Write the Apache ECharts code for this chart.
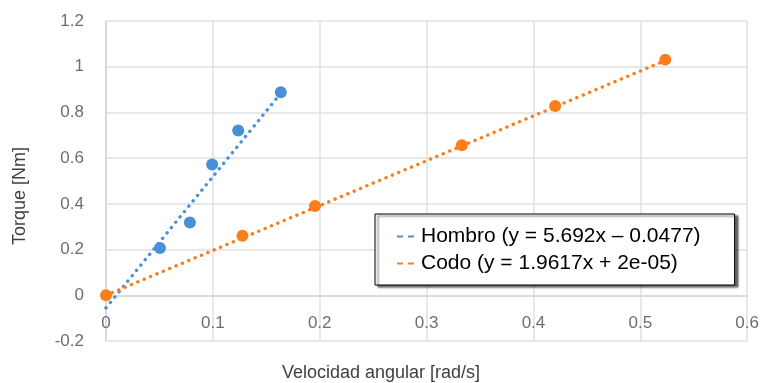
<!DOCTYPE html>
<html>
<head>
<meta charset="utf-8">
<script src="https://cdn.jsdelivr.net/npm/echarts@6/dist/echarts.min.js"></script>
<style>
html,body{margin:0;padding:0;background:#fff;}
#chart{width:762px;height:383px;}
</style>
</head>
<body>
<div id="chart"></div>
<script>
// Data
const hombroX = [0.0505, 0.0785, 0.0993, 0.1237, 0.1636];
const hombroY = [0.207, 0.318, 0.572, 0.721, 0.888];
const codoX = [0, 0.1277, 0.1956, 0.333, 0.4203, 0.5234];
const codoY = [0, 0.26, 0.391, 0.656, 0.828, 1.031];
// Trend line endpoints (as drawn)
const hombroTrendX = [0, 0.1636];
const hombroTrendY = [-0.055, 0.884];
const codoTrendX = [0, 0.5234];
const codoTrendY = [0, 1.027];
const seriesNames = ['Hombro', 'Codo'];
const legendNames = ['Hombro (y = 5.692x \u2013 0.0477)', 'Codo (y = 1.9617x + 2e-05)'];
const xTitle = 'Velocidad angular [rad/s]';
const yTitle = 'Torque [Nm]';

const blue = '#4a90d9';
const orange = '#fb7d1c';
const zip = (xs, ys) => xs.map((x, i) => [x, ys[i]]);

const chart = echarts.init(document.getElementById('chart'), null, {renderer: 'canvas'});
const font = 'Liberation Sans, Arial, Helvetica, sans-serif';
const dotLine = (c) => ({color: c, width: 3.4, type: [0.1, 6.8], cap: 'round'});

const gridTop = 21, gridBottom = 42, chartH = 383;
const plotH = chartH - gridTop - gridBottom;
const yMin = -0.2, yMax = 1.2;
const zeroOffset = plotH * (0 - yMin) / (yMax - yMin);

chart.setOption({
  animation: false,
  backgroundColor: '#fff',
  grid: {left: 106, right: 14, top: gridTop, bottom: gridBottom, containLabel: false},
  xAxis: {
    type: 'value', min: 0, max: 0.6, interval: 0.1,
    offset: -zeroOffset,
    axisLine: {show: true, onZero: false, lineStyle: {color: '#d6d6d6', width: 1.5}},
    axisTick: {show: false},
    axisLabel: {color: '#6e6e6e', fontSize: 17, fontFamily: font, margin: 20},
    splitLine: {show: true, lineStyle: {color: '#e0e0e0', width: 1.5}}
  },
  yAxis: {
    type: 'value', min: yMin, max: yMax, interval: 0.2,
    axisLine: {show: true, lineStyle: {color: '#d6d6d6', width: 1.5}},
    axisTick: {show: false},
    axisLabel: {color: '#6e6e6e', fontSize: 17, fontFamily: font, margin: 22},
    splitLine: {show: true, lineStyle: {color: '#e0e0e0', width: 1.5}}
  },
  legend: {
    orient: 'vertical',
    left: 375, top: 214,
    data: legendNames,
    backgroundColor: '#fff',
    borderColor: '#000', borderWidth: 1,
    shadowColor: 'rgba(0,0,0,0.6)', shadowOffsetX: 3, shadowOffsetY: 2, shadowBlur: 2,
    padding: [12, 34, 11, 22],
    itemGap: 6,
    itemWidth: 17, itemHeight: 2,
    textStyle: {fontSize: 21, color: '#000', fontFamily: font, padding: [0, 0, 0, 2]},
    icon: 'path://M0,0h6v2h-6z M11,0h6v2h-6z'
  },
  graphic: [
    {type: 'text', left: 'center', top: 364,
     style: {text: xTitle, fontSize: 18, fontFamily: font, fill: '#404040'}},
    {type: 'text', x: 20, y: 196, rotation: Math.PI / 2,
     style: {text: yTitle, fontSize: 18, fontFamily: font, fill: '#404040', textAlign: 'center', textVerticalAlign: 'middle'}}
  ],
  series: [
    {name: legendNames[0], type: 'line', data: zip(hombroTrendX, hombroTrendY), showSymbol: false, symbol: 'none',
     itemStyle: {color: blue}, lineStyle: dotLine(blue), z: 2},
    {name: legendNames[1], type: 'line', data: zip(codoTrendX, codoTrendY), showSymbol: false, symbol: 'none',
     itemStyle: {color: orange}, lineStyle: dotLine(orange), z: 2},
    {name: seriesNames[0], type: 'scatter', data: zip(hombroX, hombroY), symbolSize: 12,
     itemStyle: {color: blue, opacity: 1}, z: 3},
    {name: seriesNames[1], type: 'scatter', data: zip(codoX, codoY), symbolSize: 12,
     itemStyle: {color: orange, opacity: 1}, z: 3}
  ]
});
</script>
</body>
</html>
